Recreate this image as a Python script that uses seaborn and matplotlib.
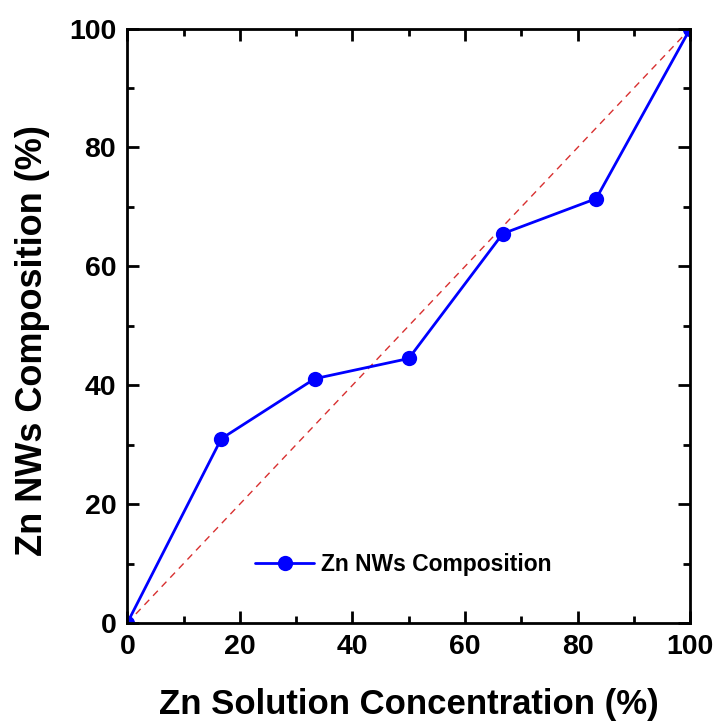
import numpy as np
import pandas as pd
import matplotlib
matplotlib.use("Agg")
import matplotlib.pyplot as plt
import seaborn as sns

# Data
solution_conc = [0, 16.7, 33.3, 50.0, 66.7, 83.3, 100]
nw_composition = [0, 31.0, 41.1, 44.5, 65.5, 71.4, 100]
ideal_x = [0, 100]
ideal_y = [0, 100]

df = pd.DataFrame({"conc": solution_conc, "comp": nw_composition})
ideal = pd.DataFrame({"x": ideal_x, "y": ideal_y})

sns.set_style("ticks", rc={"axes.edgecolor": "black", "text.color": "black",
                           "axes.labelcolor": "black", "xtick.color": "black",
                           "ytick.color": "black"})
plt.rcParams["font.family"] = ["Liberation Sans", "DejaVu Sans"]
plt.rcParams["font.weight"] = "bold"

fig = plt.figure(figsize=(7.19, 7.24), dpi=100)
ax = fig.add_axes([0.177, 0.1395, 0.783, 0.821])

sns.lineplot(data=ideal, x="x", y="y", ax=ax, color="#d83030",
             linestyle=(0, (5, 4)), linewidth=1.0, legend=False)
sns.lineplot(data=df, x="conc", y="comp", ax=ax, color="#0000ff",
             marker="o", markersize=11, markeredgewidth=0, linewidth=2.0,
             label="Zn NWs Composition")

ax.set_xlim(0, 100)
ax.set_ylim(0, 100)
ax.set_xticks([0, 20, 40, 60, 80, 100])
ax.set_yticks([0, 20, 40, 60, 80, 100])
ax.set_xticks(np.arange(10, 100, 20), minor=True)
ax.set_yticks(np.arange(10, 100, 20), minor=True)
ax.tick_params(which="both", direction="in", top=True, right=True,
               width=2, labelsize=20.5, pad=8, color="black")
ax.tick_params(which="major", length=8.5)
ax.tick_params(which="minor", length=5)
for lab in ax.get_xticklabels() + ax.get_yticklabels():
    lab.set_fontweight("bold")
for sp in ax.spines.values():
    sp.set_linewidth(2)
    sp.set_visible(True)
    sp.set_color("black")

ax.set_xlabel("Zn Solution Concentration (%)", fontsize=25,
              fontweight="bold", labelpad=20)
ax.set_ylabel("Zn NWs Composition (%)", fontsize=26, fontweight="bold")
ax.yaxis.set_label_coords(-0.138, 0.476)

leg = ax.legend(loc="lower left", bbox_to_anchor=(0.19, 0.045), frameon=False,
                handlelength=2.6, handletextpad=0.3,
                prop={"weight": "bold", "size": 16.5})

fig.savefig("out.png", dpi=100)
